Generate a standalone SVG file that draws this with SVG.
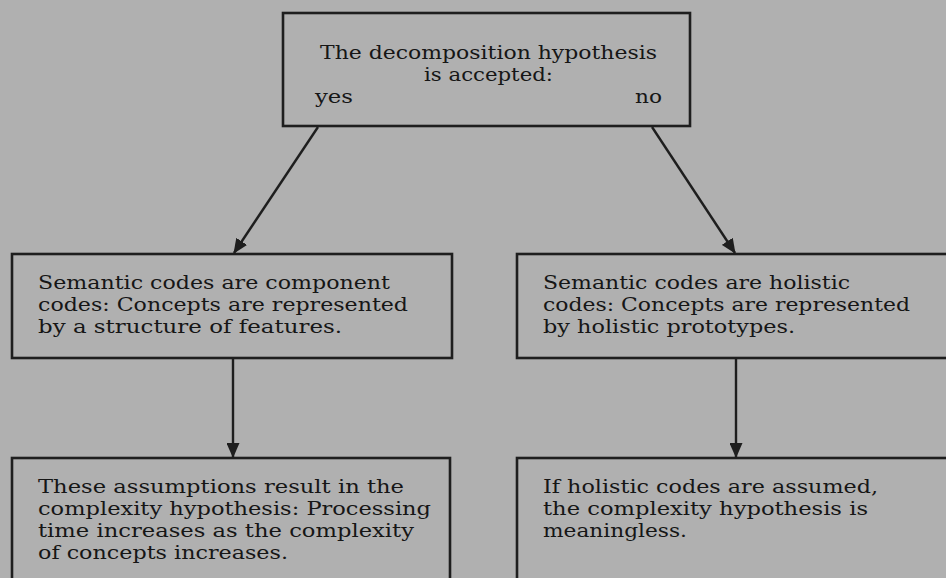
<svg xmlns="http://www.w3.org/2000/svg" width="946" height="578" viewBox="0 0 946 578">
  <style>
    .bg { fill: #b0b0b0; }
    .box { fill: #b0b0b0; stroke: #1e1e1e; stroke-width: 2.6; }
    .edge { fill: none; stroke: #1e1e1e; stroke-width: 2.4; }
    .t { font-family: "DejaVu Serif", "Liberation Serif", serif; font-size: 19px; fill: #161616; }
  </style>
  <defs>
    <marker id="arrow" markerWidth="15" markerHeight="13" refX="14" refY="6.5" orient="auto" markerUnits="userSpaceOnUse">
      <path d="M0,0 L15,6.5 L0,13 Z" fill="#1e1e1e"/>
    </marker>
  </defs>

  <rect class="bg" x="0" y="0" width="946" height="578"/>

  <!-- decision box -->
  <g id="decision">
    <rect class="box" x="283" y="13" width="407" height="113"/>
    <text class="t" x="320" y="59" textLength="337" lengthAdjust="spacingAndGlyphs">The decomposition hypothesis</text>
    <text class="t" x="424" y="81" textLength="129" lengthAdjust="spacingAndGlyphs">is accepted:</text>
    <text class="t" x="315" y="103" textLength="38" lengthAdjust="spacingAndGlyphs">yes</text>
    <text class="t" x="635" y="103" textLength="27" lengthAdjust="spacingAndGlyphs">no</text>
  </g>

  <!-- yes branch: component codes -->
  <g id="component-codes">
    <rect class="box" x="12" y="254" width="440" height="104"/>
    <text class="t" x="38" y="289" textLength="352" lengthAdjust="spacingAndGlyphs">Semantic codes are component</text>
    <text class="t" x="38" y="311" textLength="370" lengthAdjust="spacingAndGlyphs">codes: Concepts are represented</text>
    <text class="t" x="38" y="333" textLength="304" lengthAdjust="spacingAndGlyphs">by a structure of features.</text>
  </g>

  <!-- no branch: holistic codes -->
  <g id="holistic-codes">
    <rect class="box" x="517" y="254" width="440" height="104"/>
    <text class="t" x="543" y="289" textLength="307" lengthAdjust="spacingAndGlyphs">Semantic codes are holistic</text>
    <text class="t" x="543" y="311" textLength="367" lengthAdjust="spacingAndGlyphs">codes: Concepts are represented</text>
    <text class="t" x="543" y="333" textLength="252" lengthAdjust="spacingAndGlyphs">by holistic prototypes.</text>
  </g>

  <!-- consequence of component codes -->
  <g id="complexity-hypothesis">
    <rect class="box" x="12" y="458" width="438" height="140"/>
    <text class="t" x="38" y="493" textLength="366" lengthAdjust="spacingAndGlyphs">These assumptions result in the</text>
    <text class="t" x="38" y="515" textLength="393" lengthAdjust="spacingAndGlyphs">complexity hypothesis: Processing</text>
    <text class="t" x="38" y="537" textLength="376" lengthAdjust="spacingAndGlyphs">time increases as the complexity</text>
    <text class="t" x="38" y="559" textLength="250" lengthAdjust="spacingAndGlyphs">of concepts increases.</text>
  </g>

  <!-- consequence of holistic codes -->
  <g id="meaningless">
    <rect class="box" x="517" y="458" width="440" height="140"/>
    <text class="t" x="543" y="493" textLength="335" lengthAdjust="spacingAndGlyphs">If holistic codes are assumed,</text>
    <text class="t" x="543" y="515" textLength="325" lengthAdjust="spacingAndGlyphs">the complexity hypothesis is</text>
    <text class="t" x="543" y="537" textLength="144" lengthAdjust="spacingAndGlyphs">meaningless.</text>
  </g>

  <!-- connectors -->
  <g id="connectors">
    <line class="edge" x1="318" y1="127" x2="234" y2="253" marker-end="url(#arrow)"/>
    <line class="edge" x1="652" y1="127" x2="735" y2="253" marker-end="url(#arrow)"/>
    <line class="edge" x1="233" y1="359" x2="233" y2="457" marker-end="url(#arrow)"/>
    <line class="edge" x1="736" y1="359" x2="736" y2="457" marker-end="url(#arrow)"/>
  </g>
</svg>
